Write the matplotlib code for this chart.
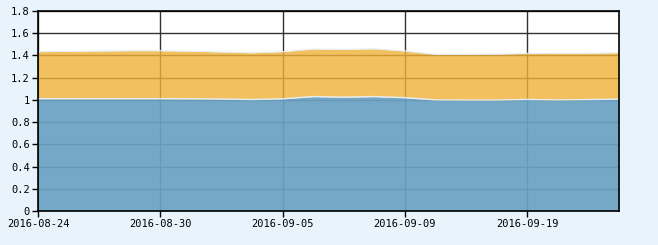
import matplotlib
matplotlib.use("Agg")
import matplotlib.pyplot as plt

dates = ["2016-08-24", "2016-08-25", "2016-08-26", "2016-08-29", "2016-08-30",
         "2016-08-31", "2016-09-01", "2016-09-02", "2016-09-05", "2016-09-06",
         "2016-09-07", "2016-09-08", "2016-09-09", "2016-09-12", "2016-09-13",
         "2016-09-14", "2016-09-19", "2016-09-20", "2016-09-21", "2016-09-22"]
blue = [1.011, 1.011, 1.011, 1.011, 1.011, 1.010, 1.008, 1.003, 1.010, 1.030,
        1.025, 1.030, 1.020, 1.000, 0.999, 0.999, 1.004, 1.000, 1.003, 1.006]
total = [1.434, 1.437, 1.440, 1.443, 1.443, 1.438, 1.432, 1.424, 1.434, 1.458,
         1.455, 1.460, 1.440, 1.410, 1.410, 1.412, 1.419, 1.420, 1.420, 1.425]
orange = [t - b for t, b in zip(total, blue)]
tick_idx = [0, 4, 8, 12, 16]

bg = "#e8f3fb"
fig = plt.figure(figsize=(6.58, 2.45), dpi=100, facecolor=bg)
ax = fig.add_axes([38 / 658, 34 / 245, 581 / 658, 200 / 245])
ax.set_facecolor("white")

x = list(range(len(dates)))
ax.set_axisbelow(True)
ax.grid(True, color="#333333", linewidth=1)
ax.fill_between(x, 0, blue, color="#6aa2c2", alpha=0.93, linewidth=0, zorder=2)
ax.fill_between(x, blue, total, color="#f0b137", alpha=0.8, linewidth=0, zorder=2)
ax.plot(x, blue, color="#e4eef5", linewidth=1, zorder=3)
ax.plot(x, total, color="#e4eef5", linewidth=0.8, zorder=3)

ax.set_xlim(0, len(dates) - 1)
ax.set_ylim(0, 1.8)
ax.set_yticks([0, 0.2, 0.4, 0.6, 0.8, 1, 1.2, 1.4, 1.6, 1.8])
ax.set_yticklabels(["0", "0.2", "0.4", "0.6", "0.8", "1", "1.2", "1.4", "1.6", "1.8"])
ax.set_xticks(tick_idx)
ax.set_xticklabels([dates[i] for i in tick_idx])
ax.tick_params(direction="out", length=4, width=1, color="black",
               labelsize=7.5, pad=2)
for lab in ax.get_xticklabels() + ax.get_yticklabels():
    lab.set_family("DejaVu Sans Mono")
for s in ax.spines.values():
    s.set_color("black")
    s.set_linewidth(1.2)
    s.set_zorder(4)

fig.savefig("out.png", dpi=100, facecolor=bg)
